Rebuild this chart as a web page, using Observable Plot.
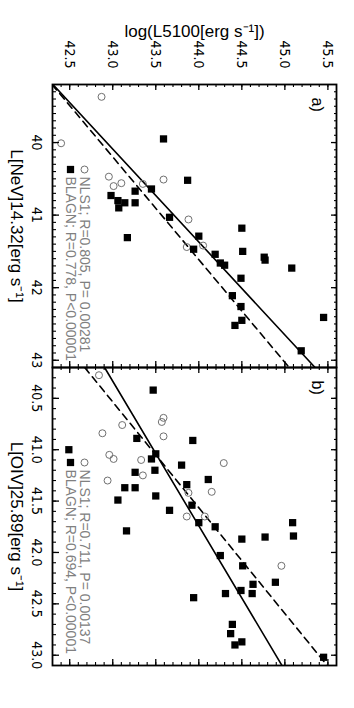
<!DOCTYPE html>
<html><head><meta charset="utf-8">
<script src="https://cdn.jsdelivr.net/npm/d3@7"></script>
<script src="https://cdn.jsdelivr.net/npm/@observablehq/plot@0.6"></script>
<style>
html,body{margin:0;padding:0;background:#fff;width:354px;height:708px;overflow:hidden;}
#wrap{position:absolute;left:0;top:0;width:708px;height:354px;transform-origin:0 0;transform:translate(354px,0) rotate(90deg);}
#wrap svg{position:absolute;top:0;overflow:visible;max-width:none;background:transparent;}
</style></head><body><div id="wrap"></div>
<script>
// ---- axes ----
const l5100Domain = [42.3, 45.6];
const nevDomain = [39.2, 43.1];
const oivDomain = [40.2, 43.1];
const l5100Ticks = [42.5, 43.0, 43.5, 44.0, 44.5, 45.0, 45.5];
const nevTicks = [40, 41, 42, 43];
const oivTicks = [40.5, 41.0, 41.5, 42.0, 42.5, 43.0];
const yTitle = "log(L5100[erg s⁻¹])";
const nevTitle = "L[NeV]14.32[erg s⁻¹]";
const oivTitle = "L[OIV]25.89[erg s⁻¹]";

// ---- panel a: NeV ----
const nlsNeV   = [39.37, 40.01, 40.51, 40.47, 40.60, 40.56, 40.57, 41.06, 41.44, 41.42];
const nlsL5100a = [42.87, 42.40, 43.59, 42.955, 43.01, 43.10, 43.35, 43.88, 43.86, 44.05];
const blNeV = [39.95, 40.52, 40.67, 40.64, 40.73, 40.80, 40.83, 40.90, 40.83, 41.03, 41.18, 41.31, 41.29, 41.47,
               41.50, 41.54, 41.66, 41.69, 41.58, 41.62, 41.73, 41.87, 42.11, 42.26, 42.45, 42.52, 42.41, 42.87];
const blL5100a = [43.59, 43.87, 43.26, 43.45, 42.98, 43.06, 43.14, 43.07, 43.26, 43.66, 44.50, 43.17, 44.00, 43.94,
                  44.51, 44.19, 44.25, 44.30, 44.76, 44.77, 45.08, 44.49, 44.39, 44.49, 44.50, 44.42, 45.45, 45.19];
const fitNeVSolid = [11.69, 0.781];   // intercept, slope
const fitNeVDashed = [14.60, 0.7065];
const legendA = ["NLS1; R=0.805, P= 0.00281", "BLAGN; R=0.778, P<0.00001"];

// ---- panel b: OIV ----
const nlsOIV = [40.275, 40.69, 40.73, 40.76, 40.84, 40.87, 41.05, 41.09, 41.10, 41.13, 41.25, 41.30, 41.42, 41.41, 41.65, 41.65, 42.13];
const nlsL5100b = [42.84, 43.59, 43.57, 43.11, 42.88, 43.59, 42.96, 43.01, 43.33, 44.29, 43.35, 42.94, 43.88, 44.15, 43.86, 44.07, 44.96];
const blOIV = [40.42, 40.89, 40.91, 41.00, 41.09, 41.04, 41.15, 41.22, 41.20, 41.29, 41.34, 41.37, 41.37, 41.49, 41.45,
               41.54, 41.59, 41.79, 41.71, 41.75, 41.87, 41.85, 41.71, 41.84, 42.03, 42.13, 42.31, 42.29, 42.37, 42.40,
               42.40, 42.44, 42.70, 42.79, 42.90, 42.87, 43.02];
const blL5100b = [43.47, 43.28, 43.93, 42.49, 43.45, 43.50, 43.80, 43.26, 43.49, 44.11, 43.86, 43.14, 43.26, 43.06, 43.50,
                  43.92, 43.66, 43.16, 44.00, 44.19, 44.50, 44.77, 45.09, 45.10, 44.25, 44.51, 44.63, 44.89, 44.49, 44.31,
                  44.62, 43.94, 44.39, 44.37, 44.42, 44.50, 45.45];
const fitOIVSolid = [14.335, 0.7107];
const fitOIVDashed = [3.62, 0.9715];
const legendB = ["NLS1; R=0.711, P= 0.00137", "BLAGN; R=0.694, P<0.00001"];

const FONT = "'Liberation Sans', Arial, Helvetica, sans-serif";
const NARROW = "'Liberation Sans Narrow', 'Arial Narrow', 'DejaVu Sans Condensed', 'Liberation Sans', sans-serif";
const GRAY = "#808080";
const H = 354, MT = 17, MB = 53;

function minorTicks([lo, hi]) {
  return d3.ticks(lo, hi, Math.round((hi - lo) * 10)).filter(v => v > lo + 1e-9 && v < hi - 1e-9);
}

function panel({W, mL, mR, xDomain, xTicks, xFmt, xTitle, nx, ny, bx, by, solid, dashed, tag, legend, showY, legDx}) {
  const fh = H - MT - MB, fw = W - mL - mR;
  const nls = nx.map((x, i) => ({x, y: ny[i]}));
  const bl = bx.map((x, i) => ({x, y: by[i]}));
  const fitLine = ([a, b]) => xDomain.map(x => ({x, y: a + b * x}));
  const xMinor = minorTicks(xDomain), yMinor = minorTicks(l5100Domain);
  const marks = [
    Plot.line(fitLine(solid), {x: "x", y: "y", stroke: "black", strokeWidth: 1.6, clip: true}),
    Plot.line(fitLine(dashed), {x: "x", y: "y", stroke: "black", strokeWidth: 1.6, strokeDasharray: "7,5", clip: true}),
    Plot.dot(nls, {x: "x", y: "y", r: 3.5, stroke: "#707070", strokeWidth: 1, fill: "none"}),
    Plot.dot(bl, {x: "x", y: "y", r: 4.1, symbol: "square", fill: "black", stroke: "none"}),
    // inward frame ticks
    Plot.tickX(xTicks, {x: d => d, insetTop: fh - 6, strokeWidth: 1.3}),
    Plot.tickX(xTicks, {x: d => d, insetBottom: fh - 6, strokeWidth: 1.3}),
    Plot.tickX(xMinor, {x: d => d, insetTop: fh - 3, strokeWidth: 1.1}),
    Plot.tickX(xMinor, {x: d => d, insetBottom: fh - 3, strokeWidth: 1.1}),
    Plot.tickY(l5100Ticks, {y: d => d, insetRight: fw - 6, strokeWidth: 1.3}),
    Plot.tickY(l5100Ticks, {y: d => d, insetLeft: fw - 6, strokeWidth: 1.3}),
    Plot.tickY(yMinor, {y: d => d, insetRight: fw - 3, strokeWidth: 1.1}),
    Plot.tickY(yMinor, {y: d => d, insetLeft: fw - 3, strokeWidth: 1.1}),
    Plot.frame({stroke: "black", strokeWidth: 1.8}),
    Plot.text([xTitle], {text: d => d, frameAnchor: "bottom", dy: 42, lineAnchor: "bottom", textAnchor: "middle", fontSize: 17, fontFamily: FONT, fill: "black"}),
    Plot.text([tag], {text: d => d, frameAnchor: "top-left", dx: 13, dy: 25, lineAnchor: "bottom", textAnchor: "start", fontSize: 16, fontFamily: FONT, fill: "black"}),
    Plot.dot([0], {frameAnchor: "bottom-left", dx: legDx, dy: -32, r: 3.5, stroke: "#707070", strokeWidth: 1, fill: "none"}),
    Plot.dot([0], {frameAnchor: "bottom-left", dx: legDx, dy: -18, r: 4.1, symbol: "square", fill: "black", stroke: "none"}),
    Plot.text([legend[0]], {text: d => d, frameAnchor: "bottom-left", dx: legDx + 7, dy: -32, lineAnchor: "middle", textAnchor: "start", fontSize: 14, fontFamily: FONT, fill: GRAY}),
    Plot.text([legend[1]], {text: d => d, frameAnchor: "bottom-left", dx: legDx + 7, dy: -18, lineAnchor: "middle", textAnchor: "start", fontSize: 14, fontFamily: FONT, fill: GRAY})
  ];
  if (showY) marks.push(Plot.text([yTitle], {text: d => d, frameAnchor: "left", dx: -48, rotate: -90, lineAnchor: "bottom", textAnchor: "middle", fontSize: 17, fontFamily: FONT, fill: "black"}));
  return Plot.plot({
    width: W, height: H,
    marginLeft: mL, marginRight: mR, marginTop: MT, marginBottom: MB,
    style: {fontFamily: NARROW, fontSize: "14px", background: "none", overflow: "visible", color: "black"},
    x: {domain: xDomain, ticks: xTicks, tickSize: 0, tickPadding: 11, tickFormat: d3.format(xFmt), label: null},
    y: showY ? {domain: l5100Domain, ticks: l5100Ticks, tickSize: 0, tickPadding: 16, tickFormat: d3.format(".1f"), label: null}
             : {domain: l5100Domain, axis: null},
    marks
  });
}

const wrap = document.getElementById("wrap");
const a = panel({W: 367, mL: 84, mR: 0, xDomain: nevDomain, xTicks: nevTicks, xFmt: "d", xTitle: nevTitle,
  nx: nlsNeV, ny: nlsL5100a, bx: blNeV, by: blL5100a, solid: fitNeVSolid, dashed: fitNeVDashed, tag: "a)", legend: legendA, showY: true, legDx: 85});
a.style.left = "0px";
wrap.appendChild(a);
const b = panel({W: 341, mL: 0, mR: 43, xDomain: oivDomain, xTicks: oivTicks, xFmt: ".1f", xTitle: oivTitle,
  nx: nlsOIV, ny: nlsL5100b, bx: blOIV, by: blL5100b, solid: fitOIVSolid, dashed: fitOIVDashed, tag: "b)", legend: legendB, showY: false, legDx: 95});
b.style.left = "367px";
wrap.appendChild(b);
</script></body></html>
